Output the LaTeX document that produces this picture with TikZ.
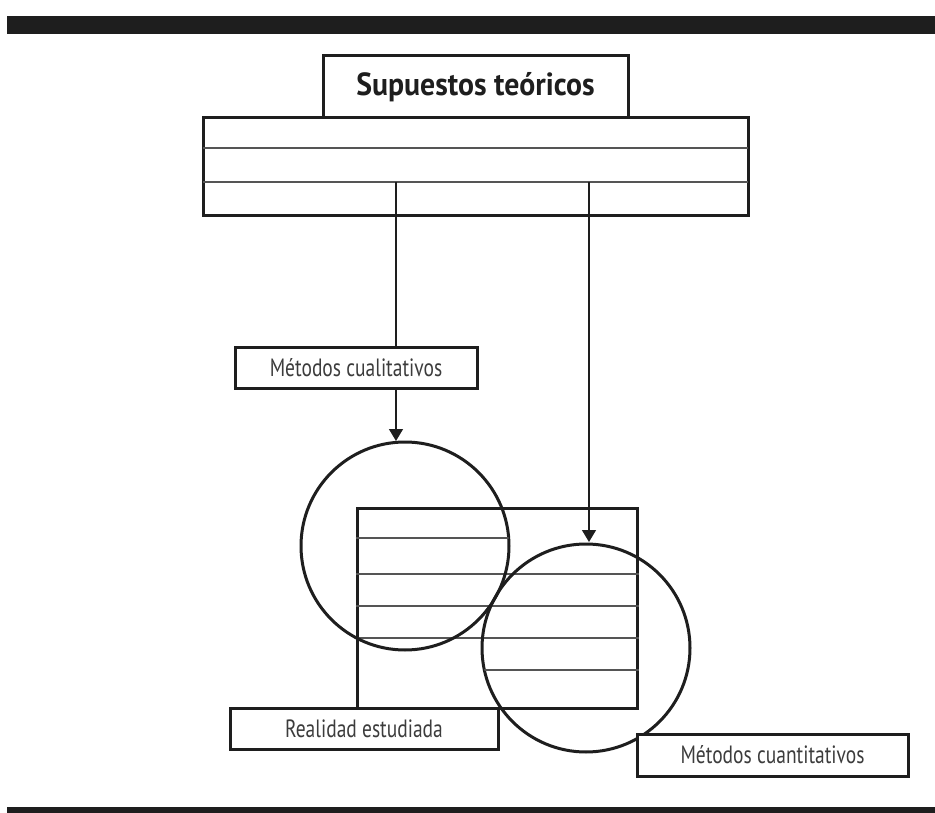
\documentclass[tikz,border=0pt]{standalone}
\usepackage{fontspec}
\setmainfont{PT Sans}
\newfontfamily\narrowfont[FakeStretch=0.78]{PT Sans}
\newfontfamily\headfont[FakeStretch=0.93]{PT Sans}
\usetikzlibrary{arrows.meta}
\definecolor{ink}{HTML}{1E1E1E}
\definecolor{txt}{HTML}{3C3C3C}
\definecolor{rule}{HTML}{555555}
\begin{document}
\begin{tikzpicture}[x=1pt,y=-1pt,
  frame/.style={draw=ink,line width=3pt,fill=white,inner sep=0pt,outer sep=0pt},
  label/.style={frame,font=\narrowfont\fontsize{25}{28}\selectfont,text=txt},
  ring/.style={draw=ink,line width=3pt,circle,minimum size=208pt,inner sep=0pt},
  stripe/.style={draw=rule,line width=1.6pt},
  flow/.style={draw=ink,line width=1.3pt,-{Triangle[width=14pt,length=12pt]}},
  bar/.style={fill=ink}
]
\useasboundingbox (0,0) rectangle (935,813);
\fill[white] (0,0) rectangle (935,813);

% horizontal rules framing the figure
\fill[bar] (7,16) rectangle (935,34);
\fill[bar] (7,807) rectangle (935,813);

% theoretical assumptions: header and stacked table
\node[frame,minimum width=545pt,minimum height=98pt] (base) at (475.5,167) {};
\coordinate (r1) at (0,148);
\coordinate (r2) at (0,182);
\draw[stripe] (base.west |- r1) -- (base.east |- r1);
\draw[stripe] (base.west |- r2) -- (base.east |- r2);
\node[frame,minimum width=305pt,minimum height=62pt,
      font=\headfont\bfseries\fontsize{32}{35}\selectfont,text=ink] (title) at (475.5,87) {Supuestos teóricos};

% studied reality: ruled rectangle
\node[draw=ink,line width=3pt,minimum width=280pt,minimum height=200pt,inner sep=0pt] (real) at (497,608) {};
\coordinate (s1) at (0,538);
\coordinate (s2) at (0,574);
\coordinate (s3) at (0,606);
\coordinate (s4) at (0,638);
\coordinate (s5) at (0,670);
\draw[stripe] (real.west |- s2) -- (real.east |- s2);
\draw[stripe] (real.west |- s3) -- (real.east |- s3);
\draw[stripe] (real.west |- s4) -- (real.east |- s4);

% method circles
\node[ring] (qual) at (405,546) {};
\node[ring] (quant) at (586,648) {};
\begin{scope}
  \clip (qual.center) circle[radius=104];
  \draw[stripe] (real.west |- s1) -- (real.east |- s1);
\end{scope}
\begin{scope}
  \clip (quant.center) circle[radius=104];
  \draw[stripe] (real.west |- s5) -- (real.east |- s5);
\end{scope}

% text labels
\node[label,minimum width=242pt,minimum height=41pt] (mqual) at (356,367.5) {Métodos cualitativos};
\node[label,minimum width=268pt,minimum height=41pt] (lreal) at (364,728.5) {Realidad estudiada};
\node[label,minimum width=271pt,minimum height=42pt] (mquant) at (772.5,755) {Métodos cuantitativos};

% arrows from the assumptions to the methods
\coordinate (a1) at (396,182);
\coordinate (a2) at (396,441);
\coordinate (b1) at (589,182);
\coordinate (b2) at (589,542);
\draw[draw=ink,line width=1.3pt] (a1) -- (a1 |- mqual.north);
\draw[flow] (a1 |- mqual.south) -- (a2);
\draw[flow] (b1) -- (b2);
\end{tikzpicture}
\end{document}
